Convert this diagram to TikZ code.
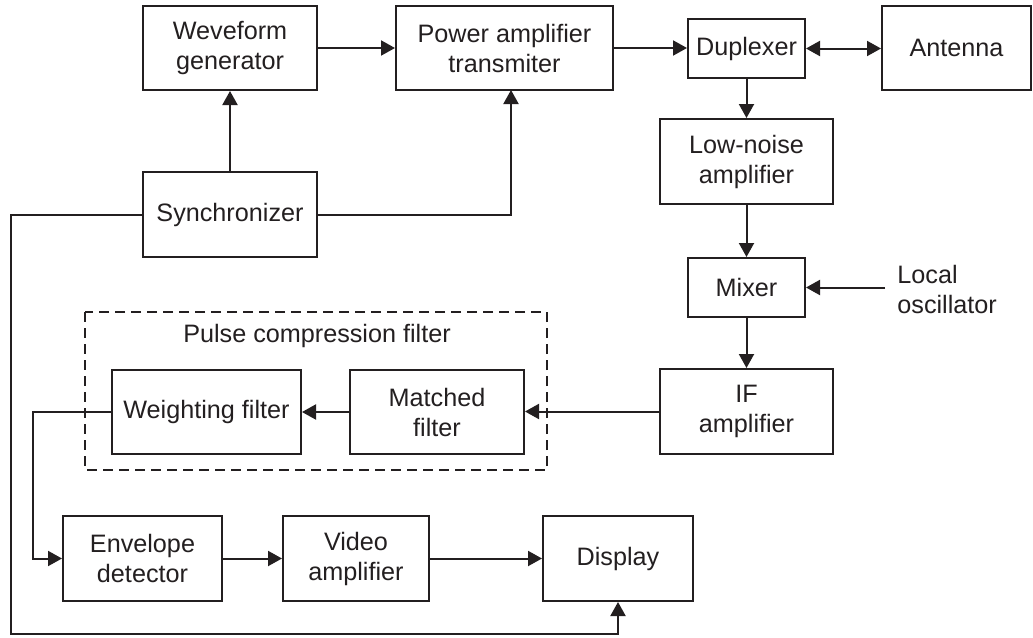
\documentclass[tikz,border=0pt]{standalone}
\usepackage{fontspec}
\setmainfont{Liberation Sans}
\usetikzlibrary{arrows.meta}
\definecolor{ink}{HTML}{231F20}
\begin{document}
\begin{tikzpicture}[x=0.5pt,y=-0.5pt,
  box/.style={draw=ink, line width=1pt, inner sep=0pt, align=center,
    font=\fontsize{12.6}{15}\selectfont, text=ink},
  lbl/.style={inner sep=0pt, font=\fontsize{12.6}{15}\selectfont, text=ink},
  arr/.style={draw=ink, line width=1pt, -{Triangle[length=7pt,width=7.5pt]}},
  dbl/.style={draw=ink, line width=1pt, {Triangle[length=7pt,width=7.5pt]}-{Triangle[length=7pt,width=7.5pt]}},
  ln/.style={draw=ink, line width=1pt},
  grp/.style={draw=ink, line width=1pt, dash pattern=on 5pt off 3pt}]
\useasboundingbox (0,0) rectangle (1033,637);
\fill[white] (0,0) rectangle (1033,637);

% boxes
\node[box, minimum width=87pt,   minimum height=42pt]   (wg)  at (230,48)    {Weveform\\generator};
\node[box, minimum width=108.5pt,minimum height=42pt]   (pa)  at (504.5,48)  {Power amplifier\\transmiter};
\node[box, minimum width=58.5pt, minimum height=29.5pt] (dup) at (746.5,48.5) {Duplexer};
\node[box, minimum width=74.5pt, minimum height=42pt]   (ant) at (956.5,48)  {Antenna};
\node[box, minimum width=86.5pt, minimum height=42.5pt] (lna) at (746.5,161.5) {Low-noise\\amplifier};
\node[box, minimum width=87pt,   minimum height=42.5pt] (syn) at (230,214.5) {Synchronizer};
\node[box, minimum width=58.5pt, minimum height=29.5pt] (mix) at (746.5,287.5) {Mixer};
\node[lbl, anchor=west, align=left] (lo) at (897,289) {Local\\oscillator};
\node[box, minimum width=94.5pt, minimum height=42pt]   (wf)  at (206.5,412) {Weighting filter};
\node[box, minimum width=87pt,   minimum height=42pt]   (mf)  at (437,412)   {Matched\\filter};
\node[box, minimum width=86.5pt, minimum height=42.5pt] (ifa) at (746.5,411.5) {IF\\amplifier};
\node[box, minimum width=79.5pt, minimum height=42.5pt] (env) at (142.5,558.5) {Envelope\\detector};
\node[box, minimum width=73pt,   minimum height=42.5pt] (vid) at (356,558.5) {Video\\amplifier};
\node[box, minimum width=75pt,   minimum height=42.5pt] (dsp) at (618,558.5) {Display};

% pulse compression group
\draw[grp] (85,312) rectangle (547,470);
\node[lbl, anchor=base] (pcf) at (317,342) {Pulse compression filter};

% coordinates
\coordinate (lostart) at (885,287.5);
\coordinate (pain) at (511,90);
\coordinate (wfx) at (33,412);
\coordinate (synl) at (11,214.5);
\coordinate (synb) at (11,634);

% connectors
\draw[arr] (wg.east) -- (pa.west);
\draw[arr] (pa.east) -- (pa.east -| dup.west);
\draw[dbl] (dup.east) -- (dup.east -| ant.west);
\draw[arr] (dup.south) -- (lna.north);
\draw[arr] (lna.south) -- (mix.north);
\draw[arr] (lostart) -- (mix.east);
\draw[arr] (mix.south) -- (ifa.north);
\draw[arr] (ifa.west) -- (ifa.west -| mf.east);
\draw[arr] (mf.west) -- (mf.west -| wf.east);
\draw[arr] (wf.west) -- (wfx) |- (env.west);
\draw[arr] (env.east) -- (vid.west);
\draw[arr] (vid.east) -- (dsp.west);
\draw[arr] (syn.north) -- (wg.south);
\draw[arr] (syn.east) -| (pain);
\draw[arr] (syn.west) -- (synl) -- (synb) -| (dsp.south);
\end{tikzpicture}
\end{document}
